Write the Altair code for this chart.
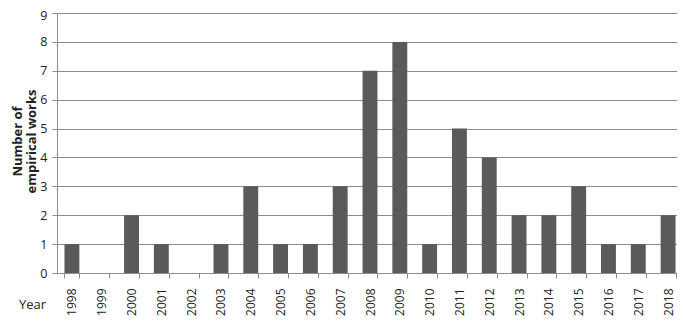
import altair as alt
import pandas as pd

years = [str(y) for y in range(1998, 2019)]
counts = [1, 0, 2, 1, 0, 1, 3, 1, 1, 3, 7, 8, 1, 5, 4, 2, 2, 3, 1, 1, 2]

df = pd.DataFrame({"year": years, "count": counts})

FONT = "Open Sans"

chart = alt.Chart(df).mark_bar(color="#5a5a5a").encode(
    x=alt.X(
        "year:N",
        sort=years,
        scale=alt.Scale(paddingInner=0.5, paddingOuter=0.25),
        axis=alt.Axis(
            title="Year",
            titleAngle=0,
            titleX=-25,
            titleY=31,
            titleAlign="center",
            titleBaseline="middle",
            titleFontWeight="normal",
            titleFontSize=13,
            titleFont=FONT,
            titleColor="#222222",
            labelAngle=-90,
            labelFontSize=12,
            labelFont=FONT,
            labelColor="#222222",
            labelPadding=10,
            tickSize=5,
            tickBand="extent",
            tickColor="#8c8c8c",
            domainColor="#8c8c8c",
            grid=False,
        ),
    ),
    y=alt.Y(
        "count:Q",
        scale=alt.Scale(domain=[0, 9], nice=False),
        axis=alt.Axis(
            title=["Number of", "empirical works"],
            titleAngle=-90,
            titleX=-46,
            titleY=128,
            titleAlign="center",
            titleBaseline="top",
            titleFontSize=13,
            titleFontWeight="bold",
            titleFont=FONT,
            titleColor="#222222",
            titleLineHeight=14,
            values=list(range(0, 10)),
            labelFontSize=12.5,
            labelFont=FONT,
            labelColor="#222222",
            labelPadding=5,
            labelOffset={"condition": {"test": "datum.value == 9", "value": 2}, "value": 0},
            tickSize=5,
            tickColor="#8c8c8c",
            domainColor="#8c8c8c",
            gridColor="#8c8c8c",
            gridWidth=1.2,
        ),
    ),
).properties(
    width=626,
    height=260,
    padding={"left": 49, "top": 5, "right": -6, "bottom": 43},
    autosize=alt.AutoSizeParams(type="none"),
).configure_view(stroke=None)

chart.save("out.html", embed_options={"renderer": "svg", "actions": False})
